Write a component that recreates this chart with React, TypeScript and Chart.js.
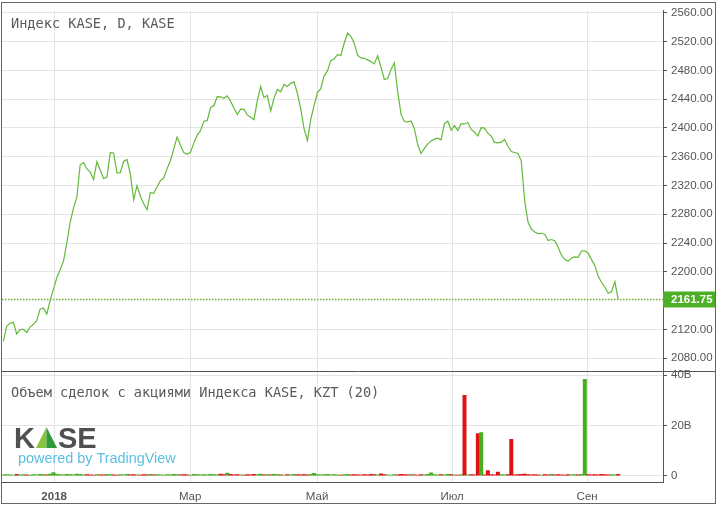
import React, { useEffect, useRef } from 'react';
import { Chart, registerables } from 'chart.js';

Chart.register(...registerables);

// Daily close of the KASE index (one value per trading day, Dec 2017 - Sep 2018)
const closePrices: number[] = [
  2103.4, 2124.4, 2128.5, 2129.8, 2113.8, 2119.8, 2120.2, 2115.7, 2123.3, 2127.1,
  2132.2, 2148.1, 2149.7, 2141.2, 2160.0, 2176.1, 2191.8, 2203.1, 2214.8, 2240.3,
  2268.9, 2289.0, 2303.7, 2349.2, 2351.9, 2343.0, 2338.6, 2328.2, 2353.0, 2341.3,
  2329.7, 2331.8, 2365.7, 2365.2, 2337.5, 2337.8, 2353.4, 2356.1, 2336.1, 2300.1,
  2319.8, 2305.3, 2294.6, 2286.4, 2310.0, 2309.0, 2318.3, 2326.8, 2330.4, 2343.5,
  2354.4, 2370.9, 2387.4, 2376.0, 2365.7, 2363.4, 2366.1, 2378.9, 2390.0, 2396.3,
  2409.3, 2410.1, 2428.2, 2431.2, 2443.4, 2443.3, 2441.3, 2444.5, 2437.2, 2427.7,
  2418.6, 2426.1, 2425.9, 2418.1, 2414.9, 2411.5, 2438.1, 2457.5, 2442.2, 2445.3,
  2423.8, 2441.2, 2453.5, 2450.3, 2460.5, 2457.5, 2462.0, 2464.0, 2447.9, 2426.3,
  2398.7, 2382.7, 2411.9, 2431.5, 2449.3, 2454.6, 2472.4, 2479.4, 2493.5, 2496.0,
  2502.0, 2500.8, 2517.7, 2532.0, 2527.4, 2517.9, 2501.1, 2497.4, 2496.8, 2494.6,
  2492.2, 2489.0, 2500.3, 2484.6, 2467.4, 2468.7, 2481.3, 2490.5, 2450.5, 2419.2,
  2408.9, 2408.4, 2409.7, 2398.9, 2377.0, 2364.5, 2371.5, 2377.9, 2382.0, 2384.4,
  2385.7, 2383.5, 2405.7, 2409.7, 2396.8, 2403.3, 2396.4, 2406.1, 2405.5, 2407.5,
  2397.9, 2394.1, 2389.0, 2400.4, 2399.7, 2392.7, 2388.6, 2380.0, 2379.2, 2380.3,
  2384.0, 2374.6, 2367.2, 2365.9, 2364.5, 2354.0, 2298.9, 2269.3, 2259.4, 2255.3,
  2253.1, 2253.6, 2252.2, 2243.4, 2244.9, 2243.3, 2234.1, 2223.4, 2217.1, 2214.9,
  2219.2, 2220.8, 2220.3, 2229.0, 2229.3, 2226.0, 2217.0, 2209.0, 2193.8, 2185.5,
  2178.6, 2170.3, 2172.7, 2186.4, 2161.75,
];

// Traded volume, billions of KZT, one per trading day
const volumeB: number[] = [
  0.3, 0.4, 0.3, 0.2, 0.5, 0.3, 0.4, 0.3, 0.2, 0.4,
  0.3, 0.5, 0.4, 0.3, 0.6, 1.2, 0.5, 0.4, 0.3, 0.5,
  0.4, 0.3, 0.6, 0.5, 0.3, 0.4, 0.3, 0.2, 0.4, 0.3,
  0.3, 0.5, 0.4, 0.3, 0.2, 0.4, 0.3, 0.5, 0.3, 0.4,
  0.3, 0.2, 0.4, 0.3, 0.5, 0.3, 0.4, 0.3, 0.2, 0.4,
  0.3, 0.5, 0.4, 0.3, 0.4, 0.3, 0.2, 0.5, 0.4, 0.3,
  0.4, 0.3, 0.5, 0.4, 0.3, 0.6, 0.4, 1.0, 0.5, 0.3,
  0.4, 0.3, 0.2, 0.4, 0.3, 0.5, 0.4, 0.6, 0.3, 0.4,
  0.3, 0.5, 0.4, 0.3, 0.2, 0.4, 0.3, 0.5, 0.4, 0.3,
  0.4, 0.3, 0.5, 0.9, 0.4, 0.3, 0.4, 0.5, 0.3, 0.4,
  0.3, 0.2, 0.4, 0.5, 0.3, 0.4, 0.3, 0.2, 0.4, 0.3,
  0.5, 0.4, 0.3, 0.7, 0.4, 0.3, 0.2, 0.4, 0.3, 0.5,
  0.4, 0.3, 0.4, 0.3, 0.2, 0.4, 0.3, 0.5, 1.1, 0.4,
  0.3, 0.4, 0.3, 0.5, 0.4, 0.3, 0.2, 0.4, 32.0, 0.3,
  0.4, 0.3, 16.7, 17.1, 0.3, 2.0, 0.4, 0.3, 1.4, 0.4,
  0.3, 0.4, 14.4, 0.3, 0.4, 0.5, 0.6, 0.4, 0.3, 0.4,
  0.3, 0.2, 0.4, 0.3, 0.5, 0.3, 0.4, 0.3, 0.2, 0.4,
  0.3, 0.4, 0.3, 0.5, 38.3, 0.4, 0.3, 0.4, 0.3, 0.5,
  0.4, 0.3, 0.4, 0.3, 0.5,
];

const priceTicks: number[] = [2080, 2120, 2200, 2240, 2280, 2320, 2360, 2400, 2440, 2480, 2520, 2560];
const volumeTicks: number[] = [0, 20, 40];
// month boundaries expressed as (fractional) bar index
const monthTickIndex: number[] = [15.2, 55.9, 93.9, 134.3, 174.7];
const monthLabels: string[] = ['2018', 'Мар', 'Май', 'Июл', 'Сен'];
const lastPrice = 2161.75;
const priceTitle = 'Индекс KASE, D, KASE';
const volumeTitle = 'Объем сделок с акциями Индекса KASE, KZT (20)';

const SANS = '"Liberation Sans", Arial, sans-serif';
const MONO = '"DejaVu Sans Mono", monospace';
const GRID = '#e4e4e4';
const AXIS = '#555555';
const LINE = '#62b93a';
const UP = '#45b01e';
const DOWN = '#e01212';

const overlay = {
  id: 'overlay',
  beforeDraw(chart: any) {
    const ctx = chart.ctx;
    ctx.save();
    ctx.fillStyle = '#ffffff';
    ctx.fillRect(0, 0, chart.width, chart.height);
    ctx.restore();
  },
  afterDraw(chart: any) {
    const ctx = chart.ctx;
    const area = chart.chartArea;
    const yScale = chart.scales.y;
    const vScale = chart.scales.yv;
    ctx.save();

    // last price dotted line
    const py = Math.round(yScale.getPixelForValue(lastPrice)) + 0.5;
    ctx.strokeStyle = '#72ad35';
    ctx.lineWidth = 1.3;
    ctx.setLineDash([1.5, 1.5]);
    ctx.beginPath();
    ctx.moveTo(area.left, py);
    ctx.lineTo(area.right, py);
    ctx.stroke();
    ctx.setLineDash([]);

    // last price label
    ctx.fillStyle = '#4caf26';
    ctx.fillRect(area.right, py - 8, 53, 16);
    ctx.fillStyle = '#ffffff';
    ctx.font = 'bold 11.5px ' + SANS;
    ctx.textBaseline = 'middle';
    ctx.textAlign = 'left';
    ctx.fillText(lastPrice.toFixed(2), area.right + 8, py + 0.5);

    // pane divider
    const dy = Math.round(vScale.top) + 0.5;
    ctx.strokeStyle = '#555555';
    ctx.lineWidth = 1;
    ctx.beginPath();
    ctx.moveTo(1, dy);
    ctx.lineTo(716, dy);
    ctx.stroke();

    // outer frame
    ctx.strokeStyle = '#666666';
    ctx.strokeRect(1.5, 2.5, 714, 501);

    // pane titles
    ctx.fillStyle = '#5a5a5a';
    ctx.font = '13.6px ' + MONO;
    ctx.textBaseline = 'alphabetic';
    ctx.fillText(priceTitle, 11, 28);
    ctx.fillText(volumeTitle, 11, 397);

    // KASE logo
    ctx.fillStyle = '#505050';
    ctx.font = 'bold 29px ' + SANS;
    ctx.fillText('K', 14, 448);
    ctx.fillStyle = '#86c440';
    ctx.beginPath();
    ctx.moveTo(36, 448);
    ctx.lineTo(46.5, 427);
    ctx.lineTo(46.5, 448);
    ctx.closePath();
    ctx.fill();
    ctx.fillStyle = '#2f9a3a';
    ctx.beginPath();
    ctx.moveTo(46.5, 427);
    ctx.lineTo(57, 448);
    ctx.lineTo(46.5, 448);
    ctx.closePath();
    ctx.fill();
    ctx.fillStyle = '#505050';
    ctx.fillText('SE', 58, 448);
    ctx.fillStyle = '#5cbfe2';
    ctx.font = '14.4px ' + SANS;
    ctx.fillText('powered by TradingView', 18, 463);

    ctx.restore();
  },
};

export default function App() {
  const ref = useRef<HTMLCanvasElement | null>(null);

  useEffect(() => {
    document.body.style.margin = '0';
    const canvas = ref.current;
    if (!canvas) return;

    const lineData = closePrices.map((v, i) => ({ x: i, y: v }));
    const barData = volumeB.map((v, i) => ({ x: i, y: v }));
    const barColors = volumeB.map((_, i) =>
      i === 0 || closePrices[i] >= closePrices[i - 1] ? UP : DOWN
    );

    const chart = new Chart(canvas, {
      type: 'bar',
      data: {
        datasets: [
          {
            type: 'line',
            data: lineData,
            yAxisID: 'y',
            xAxisID: 'x',
            borderColor: LINE,
            borderWidth: 1.2,
            pointRadius: 0,
            tension: 0,
            fill: false,
          } as any,
          {
            type: 'bar',
            data: barData,
            yAxisID: 'yv',
            xAxisID: 'x',
            backgroundColor: barColors,
            barPercentage: 1,
            categoryPercentage: 1,
          } as any,
        ],
      },
      options: {
        animation: false,
        responsive: false,
        devicePixelRatio: 1,
        layout: { padding: { top: 4, left: 2, right: 0, bottom: 0 }, autoPadding: false },
        plugins: { legend: { display: false }, tooltip: { enabled: false }, title: { display: false } },
        scales: {
          x: {
            type: 'linear',
            position: 'bottom',
            offset: false,
            min: -0.4,
            max: 197.4,
            afterBuildTicks: (scale: any) => {
              scale.ticks = monthTickIndex.map((v) => ({ value: v }));
            },
            afterFit: (scale: any) => {
              scale.height = 24;
            },
            grid: { color: GRID, drawTicks: false, offset: false },
            border: { display: true, color: '#555555' },
            ticks: {
              autoSkip: false,
              maxRotation: 0,
              padding: 8,
              color: AXIS,
              font: (ctx: any) => ({
                family: SANS,
                size: 11.5,
                weight: ctx.index === 0 ? 'bold' : 'normal',
              }),
              callback: (_v: any, i: number) => monthLabels[i],
            },
          },
          y: {
            type: 'linear',
            position: 'right',
            stack: 'panes',
            stackWeight: 365,
            min: 2062.7,
            max: 2562.7,
            afterBuildTicks: (scale: any) => {
              scale.ticks = priceTicks.map((v) => ({ value: v }));
            },
            afterFit: (scale: any) => {
              scale.width = 57;
            },
            grid: { color: GRID, tickLength: 4, tickColor: '#555555' },
            border: { display: true, color: '#555555' },
            ticks: {
              padding: 4,
              color: AXIS,
              font: { family: SANS, size: 11.5 },
              callback: (v: any) => Number(v).toFixed(2),
            },
          },
          yv: {
            type: 'linear',
            position: 'right',
            stack: 'panes',
            stackWeight: 113,
            min: -2.55,
            max: 41.8,
            afterBuildTicks: (scale: any) => {
              scale.ticks = volumeTicks.map((v) => ({ value: v }));
            },
            afterFit: (scale: any) => {
              scale.width = 57;
            },
            grid: { color: GRID, tickLength: 4, tickColor: '#555555' },
            border: { display: true, color: '#555555' },
            ticks: {
              padding: 4,
              color: AXIS,
              font: { family: SANS, size: 11.5 },
              callback: (v: any) => (Number(v) === 0 ? '0' : v + 'B'),
            },
          },
        } as any,
      },
      plugins: [overlay],
    });

    return () => chart.destroy();
  }, []);

  return (
    <div style={{ position: 'fixed', left: 0, top: 0, width: 720, height: 506 }}>
      <canvas ref={ref} width={720} height={506} style={{ display: 'block' }} />
    </div>
  );
}
